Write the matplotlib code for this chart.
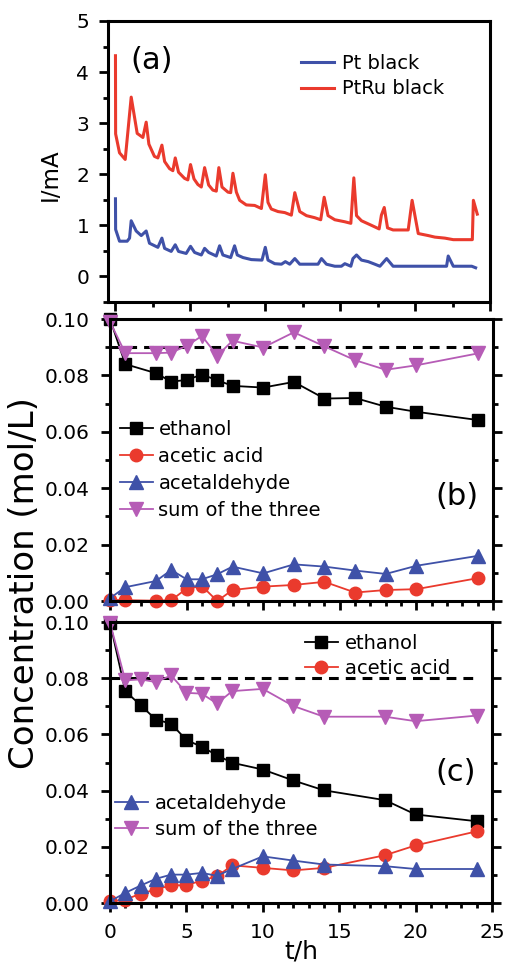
import matplotlib.pyplot as plt
from matplotlib.ticker import MultipleLocator

# panel (a): current vs time
t_pt = [0, 0.01, 0.27, 0.78, 0.94, 1.05, 1.38, 1.72, 2.05, 2.27, 2.83, 3.1, 3.28, 3.72, 3.99,
        4.21, 4.72, 5.01, 5.28, 5.73, 5.95, 6.22, 6.73, 6.95, 7.17, 7.69, 7.95, 8.13, 8.51,
        9.07, 9.78, 10.0, 10.18, 10.63, 11.08, 11.34, 11.63, 11.97, 12.3, 13.52, 13.75, 14.08,
        14.64, 15.08, 15.31, 15.71, 15.85, 16.09, 16.42, 16.87, 17.31, 17.65, 18.1, 18.53,
        22.1, 22.21, 22.55, 23.78, 24.04]
i_pt = [1.52, 0.92, 0.69, 0.69, 0.75, 1.09, 0.89, 0.80, 0.89, 0.65, 0.57, 0.75, 0.55, 0.49, 0.62,
        0.49, 0.45, 0.59, 0.47, 0.42, 0.55, 0.47, 0.40, 0.60, 0.42, 0.37, 0.60, 0.42, 0.37,
        0.33, 0.32, 0.57, 0.32, 0.25, 0.24, 0.29, 0.24, 0.35, 0.24, 0.24, 0.35, 0.24,
        0.20, 0.20, 0.25, 0.20, 0.35, 0.42, 0.32, 0.29, 0.24, 0.20, 0.35, 0.20,
        0.20, 0.40, 0.20, 0.20, 0.17]

t_ptru = [0, 0.01, 0.27, 0.65, 1.05, 1.45, 1.83, 2.05, 2.23, 2.6, 2.83, 3.1, 3.28, 3.61, 3.83,
          3.99, 4.21, 4.61, 4.83, 5.01, 5.24, 5.5, 5.73, 5.95, 6.22, 6.5, 6.73, 6.9, 7.11,
          7.51, 7.69, 7.84, 8.07, 8.29, 8.73, 9.29, 9.74, 10.0, 10.18, 10.4, 10.85, 11.3,
          11.74, 11.97, 12.3, 12.75, 13.3, 13.7, 13.93, 14.19, 14.64, 15.31, 15.71, 15.91,
          16.09, 16.42, 17.09, 17.6, 17.75, 17.94, 18.16, 18.53, 19.54, 19.8, 20.21, 20.88,
          21.32, 21.99, 22.55, 23.82, 23.89, 24.15]
i_ptru = [4.32, 2.79, 2.42, 2.29, 3.51, 2.80, 2.72, 3.02, 2.59, 2.35, 2.32, 2.57, 2.25, 2.11, 2.07,
          2.32, 2.04, 1.92, 1.89, 2.19, 1.91, 1.80, 1.75, 2.13, 1.79, 1.69, 1.67, 2.13, 1.75,
          1.65, 1.64, 2.02, 1.65, 1.49, 1.40, 1.39, 1.33, 1.99, 1.45, 1.32, 1.27, 1.25,
          1.20, 1.64, 1.27, 1.19, 1.15, 1.11, 1.55, 1.19, 1.11, 1.07, 1.04, 1.93,
          1.19, 1.09, 1.00, 0.93, 1.20, 1.35, 0.95, 0.91, 0.91, 1.49, 0.84, 0.80,
          0.77, 0.75, 0.72, 0.72, 1.49, 1.22]

# panel (b): Pt black
t_b = [0, 1, 3, 4, 5, 6, 7, 8, 10, 12, 14, 16, 18, 20, 24]
eth_b = [0.100, 0.084, 0.0808, 0.0778, 0.0784, 0.0803, 0.0783, 0.0763, 0.0757, 0.0777,
         0.0718, 0.0720, 0.0689, 0.0671, 0.0642]
acid_b = [0.0004, 0.0003, 0.0001, 0.0003, 0.0044, 0.0053, 0.0, 0.0039, 0.0051, 0.0057,
          0.0068, 0.0030, 0.0039, 0.0042, 0.0081]
ald_b = [0.001, 0.0049, 0.0071, 0.0110, 0.0077, 0.0077, 0.0095, 0.0122, 0.0098, 0.0130,
         0.0122, 0.0108, 0.0096, 0.0125, 0.0160]
sum_b = [0.099, 0.0879, 0.0879, 0.0881, 0.0905, 0.0940, 0.0870, 0.0923, 0.0899, 0.0953,
         0.0903, 0.0854, 0.0820, 0.0836, 0.0878]
ref_t_b = [0, 24.3]
ref_b = [0.09, 0.09]

# panel (c): PtRu black
t_c = [0, 1, 2, 3, 4, 5, 6, 7, 8, 10, 12, 14, 18, 20, 24]
eth_c = [0.0998, 0.0754, 0.0704, 0.0653, 0.0638, 0.0580, 0.0556, 0.0526, 0.0499, 0.0475,
         0.0436, 0.0401, 0.0366, 0.0315, 0.0291]
acid_c = [0.0006, 0.0012, 0.0033, 0.0048, 0.0063, 0.0063, 0.0080, 0.0095, 0.0134, 0.0125,
          0.0116, 0.0125, 0.0170, 0.0205, 0.0255]
ald_c = [0.0006, 0.0036, 0.0062, 0.0086, 0.0101, 0.0101, 0.0107, 0.0097, 0.0121, 0.0166,
         0.0151, 0.0137, 0.0131, 0.0121, 0.0121]
sum_c = [0.0998, 0.0792, 0.0796, 0.0786, 0.0810, 0.0748, 0.0745, 0.0710, 0.0754, 0.0762,
         0.0701, 0.0663, 0.0663, 0.0647, 0.0667]
ref_t_c = [0, 24.0]
ref_c = [0.08, 0.08]

RED = '#ea3a2d'
BLUE = '#3f51a8'
MAG = '#b65cb6'

plt.rcParams['font.family'] = ['DejaVu Sans']

fig = plt.figure(figsize=(5.06, 9.63), dpi=100)
ax_a = fig.add_axes([0.2134, 0.6864, 0.755, 0.2918])
ax_b = fig.add_axes([0.2174, 0.3759, 0.7569, 0.2928])
ax_c = fig.add_axes([0.2174, 0.0623, 0.7549, 0.2918])


def style(ax, right_ticks):
    for s in ax.spines.values():
        s.set_linewidth(2.2)
    ax.tick_params(which='both', direction='out', width=2.0, labelsize=14.5,
                   top=False, right=right_ticks)
    ax.tick_params(which='major', length=6.5)
    ax.tick_params(which='minor', length=3.5)


# (a)
ax_a.plot(t_pt, i_pt, color=BLUE, lw=2.2, label='Pt black')
ax_a.plot(t_ptru, i_ptru, color=RED, lw=2.2, label='PtRu black')
ax_a.set_xlim(-0.5, 25)
ax_a.set_ylim(-0.5, 5)
ax_a.xaxis.set_major_locator(MultipleLocator(5))
ax_a.xaxis.set_minor_locator(MultipleLocator(2.5))
ax_a.yaxis.set_major_locator(MultipleLocator(1))
ax_a.yaxis.set_minor_locator(MultipleLocator(0.5))
style(ax_a, False)
ax_a.tick_params(axis='x', labelbottom=False)
ax_a.tick_params(axis='y', pad=7)
ax_a.set_ylabel('I/mA', fontsize=16.5)
ax_a.yaxis.set_label_coords(-0.12, 0.452)
ax_a.text(0.113, 0.861, '(a)', transform=ax_a.transAxes, fontsize=22, ha='center', va='center')
ax_a.legend(loc='upper left', bbox_to_anchor=(0.505, 0.884), frameon=False, fontsize=14,
            handlelength=1.7, handletextpad=0.4, labelspacing=0.35, borderpad=0, borderaxespad=0)


def conc_panel(ax, t, eth, acid, ald, tot, rt, rv):
    ax.plot(rt, rv, color='black', lw=2.2, ls=(0, (3.2, 2.3)))
    h1, = ax.plot(t, eth, color='black', lw=1.3, marker='s', ms=9, label='ethanol', clip_on=False)
    h2, = ax.plot(t, acid, color=RED, lw=1.3, marker='o', ms=9, label='acetic acid', clip_on=False)
    h3, = ax.plot(t, ald, color=BLUE, lw=1.3, marker='^', ms=9.5, label='acetaldehyde', clip_on=False)
    h4, = ax.plot(t, tot, color=MAG, lw=1.3, marker='v', ms=9.5, label='sum of the three', clip_on=False)
    ax.set_xlim(0, 25)
    ax.set_ylim(0, 0.1)
    ax.xaxis.set_major_locator(MultipleLocator(5))
    ax.xaxis.set_minor_locator(MultipleLocator(1))
    ax.yaxis.set_major_locator(MultipleLocator(0.02))
    ax.yaxis.set_minor_locator(MultipleLocator(0.01))
    ax.yaxis.set_major_formatter(plt.FormatStrFormatter('%.2f'))
    style(ax, True)
    ax.tick_params(axis='y', pad=8, labelright=False)
    return [h1, h2, h3, h4]


hb = conc_panel(ax_b, t_b, eth_b, acid_b, ald_b, sum_b, ref_t_b, ref_b)
ax_b.tick_params(axis='x', labelbottom=False)
ax_b.legend(handles=hb, loc='upper left', bbox_to_anchor=(0.026, 0.643), frameon=False,
            fontsize=14, handlelength=1.7, handletextpad=0.28, labelspacing=0.42,
            borderpad=0, borderaxespad=0)
ax_b.text(0.906, 0.369, '(b)', transform=ax_b.transAxes, fontsize=22, ha='center', va='center')

hc = conc_panel(ax_c, t_c, eth_c, acid_c, ald_c, sum_c, ref_t_c, ref_c)
ax_c.tick_params(axis='x', pad=8)
ax_c.set_xlabel('t/h', fontsize=18, labelpad=-2)
leg1 = ax_c.legend(handles=hc[:2], loc='upper left', bbox_to_anchor=(0.51, 0.958), frameon=False,
                   fontsize=14, handlelength=1.7, handletextpad=0.36, labelspacing=0.3,
                   borderpad=0, borderaxespad=0)
ax_c.add_artist(leg1)
ax_c.legend(handles=hc[2:], loc='upper left', bbox_to_anchor=(0.013, 0.389), frameon=False,
            fontsize=14, handlelength=1.7, handletextpad=0.36, labelspacing=0.35,
            borderpad=0, borderaxespad=0)
ax_c.text(0.906, 0.466, '(c)', transform=ax_c.transAxes, fontsize=22, ha='center', va='center')

fig.text(0.049, 0.395, 'Concentration (mol/L)', rotation=90, fontsize=24.5, ha='center', va='center')

fig.savefig('out.png', dpi=100)
